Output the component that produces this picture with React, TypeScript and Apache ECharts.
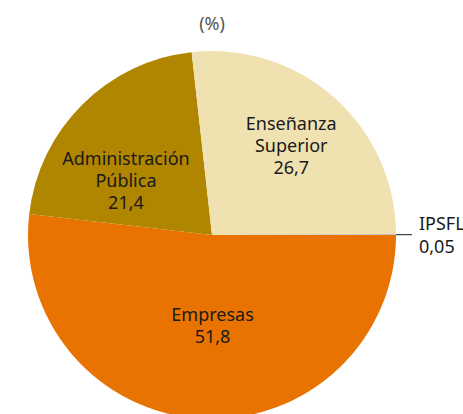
import React, { useEffect, useRef } from "react";
import * as echarts from "echarts";

const categories = ["Empresas", "Administración\nPública", "Enseñanza\nSuperior", "IPSFL"];
const values = [51.8, 21.4, 26.7, 0.05];
const valueLabels = ["51,8", "21,4", "26,7", "0,05"];
const colors = ["#E87300", "#B08500", "#F0E1B0", "#9C8FA6"];
const labelShift = [
  { dx: 6, dy: -5 },
  { dx: -19, dy: 12 },
  { dx: 16, dy: -19 },
  { dx: 2, dy: 0 },
];

export default function App() {
  const ref = useRef<HTMLDivElement>(null);
  useEffect(() => {
    document.body.style.margin = "0";
    const chart = echarts.init(ref.current!, null, { renderer: "svg" });
    chart.setOption({
      animation: false,
      title: {
        text: "(%)",
        left: 207,
        top: 9,
        textAlign: "center",
        textStyle: { fontSize: 18, fontWeight: "normal", color: "#555", fontFamily: "Noto Sans" },
      },
      series: [
        {
          type: "pie",
          center: [212, 235],
          radius: [0, 184],
          startAngle: 0,
          clockwise: true,
          avoidLabelOverlap: false,
          itemStyle: { borderWidth: 0 },
          data: categories.map((c, i) => ({
            name: c,
            value: values[i],
            itemStyle: { color: colors[i] },
            label:
              i === 3
                ? {
                    show: true,
                    position: "outside",
                    formatter: "IPSFL\n" + valueLabels[i],
                    align: "left",
                    fontSize: 18,
                    lineHeight: 23,
                    color: "#1a1a1a",
                    fontFamily: "Noto Sans",
                  }
                : {
                    show: true,
                    position: "inside",
                    formatter: c + "\n" + valueLabels[i],
                    fontSize: 18,
                    lineHeight: 22,
                    color: "#1a1a1a",
                    fontFamily: "Noto Sans",
                  },
            labelLine:
              i === 3
                ? { show: true, length: 8, length2: 8, lineStyle: { color: "#1a1a1a", width: 1 } }
                : { show: false },
          })),
          labelLayout: (p: any) => labelShift[p.dataIndex],
        },
      ],
    });
    return () => chart.dispose();
  }, []);
  return <div ref={ref} style={{ width: 463, height: 414 }} />;
}
